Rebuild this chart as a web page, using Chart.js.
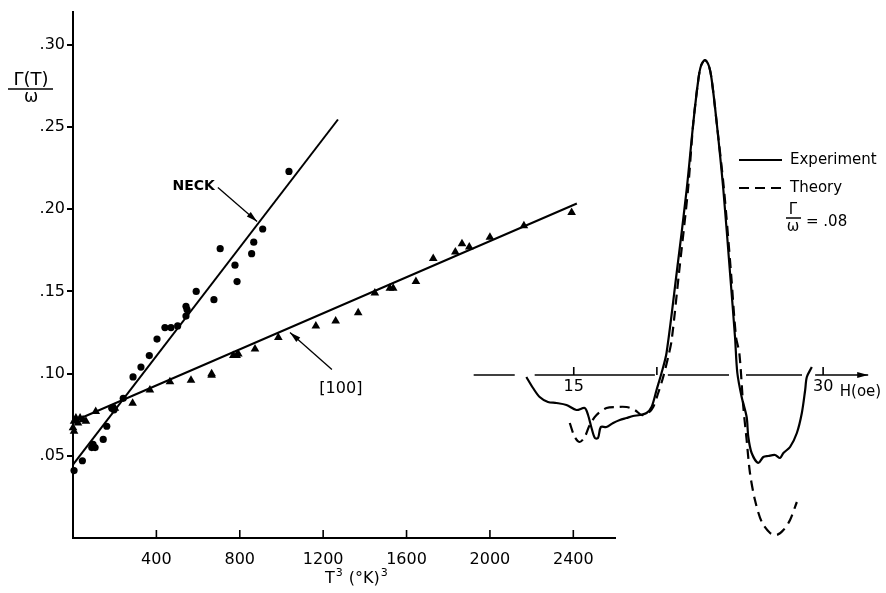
<!DOCTYPE html>
<html>
<head>
<meta charset="utf-8">
<script src="https://cdn.jsdelivr.net/npm/chart.js@4.4.1/dist/chart.umd.min.js"></script>
<style>
  body { margin: 0; background: #fff; }
  #wrap { position: relative; width: 886px; height: 593px; }
  #main { position: absolute; left: 0; top: 0; }
  #inset { position: absolute; left: 460px; top: 40px; }
</style>
</head>
<body>
<div id="wrap">
  <canvas id="main" width="886" height="593"></canvas>
  <canvas id="inset" width="426" height="520"></canvas>
</div>
<script>
// ---- data ----
// NECK orbit (dots): T^3 in (K)^3, Gamma/omega
const neckT3 = [5, 45, 90, 96, 106, 145, 162, 186, 197, 241, 288, 326, 366, 403, 441, 470, 502, 542, 547, 542, 591, 676, 706, 787, 777, 857, 867, 910, 1036];
const neckRatio = [0.041, 0.047, 0.055, 0.057, 0.055, 0.060, 0.068, 0.079, 0.078, 0.085, 0.098, 0.104, 0.111, 0.121, 0.128, 0.128, 0.129, 0.135, 0.139, 0.141, 0.150, 0.145, 0.176, 0.156, 0.166, 0.173, 0.180, 0.188, 0.223];

// [100] direction (triangles)
const hundredT3 = [0, 5, 14, 24, 34, 48, 62, 5, 109, 201, 286, 369, 465, 566, 665, 665, 769, 785, 793, 873, 985, 1165, 1260, 1368, 1448, 1520, 1536, 1645, 1728, 1834, 1866, 1901, 2000, 2163, 2392];
const hundredRatio = [0.067, 0.071, 0.073, 0.070, 0.073, 0.072, 0.071, 0.065, 0.077, 0.079, 0.082, 0.090, 0.095, 0.096, 0.100, 0.099, 0.111, 0.111, 0.112, 0.115, 0.122, 0.129, 0.132, 0.137, 0.149, 0.152, 0.152, 0.156, 0.170, 0.174, 0.179, 0.177, 0.183, 0.190, 0.198];

// straight fits, end points
const neckFitT3 = [0, 1271];
const neckFitRatio = [0.0447, 0.2546];
const hundredFitT3 = [0, 2417];
const hundredFitRatio = [0.0709, 0.2035];

const xTicks = [400, 800, 1200, 1600, 2000, 2400];
const yTicks = [0.05, 0.10, 0.15, 0.20, 0.25, 0.30];

// inset: line shape vs H (oe), arbitrary signal units
const expField = [12.15, 12.55, 12.95, 13.45, 13.96, 14.56, 15.16, 15.66, 15.86, 16.07, 16.27, 16.46, 16.63, 16.97, 17.37, 17.77, 18.17, 18.57, 18.98, 19.38, 19.68, 19.98, 20.28, 20.58, 21.19, 21.79, 22.19, 22.49, 22.65, 22.89, 23.13, 23.30, 23.60, 24.00, 24.40, 24.70, 24.84, 25.10, 25.40, 25.50, 25.70, 26.10, 26.40, 26.70, 27.11, 27.41, 27.61, 28.01, 28.42, 28.72, 28.92, 29.02, 29.32];
const expSignal = [-0.02, -0.13, -0.22, -0.27, -0.28, -0.30, -0.35, -0.33, -0.40, -0.53, -0.63, -0.63, -0.52, -0.52, -0.48, -0.45, -0.43, -0.41, -0.40, -0.38, -0.32, -0.15, 0.02, 0.22, 1.02, 1.85, 2.52, 2.95, 3.09, 3.15, 3.09, 2.95, 2.52, 1.85, 1.02, 0.38, 0.02, -0.22, -0.42, -0.62, -0.78, -0.88, -0.82, -0.81, -0.80, -0.83, -0.78, -0.72, -0.58, -0.38, -0.15, -0.02, 0.08];
const theoryField = [14.76, 15.06, 15.36, 15.66, 15.96, 16.37, 16.97, 17.57, 18.17, 18.67, 19.08, 19.48, 19.78, 20.08, 20.38, 20.68, 20.89, 21.33, 21.87, 22.19, 22.49, 22.65, 22.89, 23.13, 23.30, 23.60, 24.04, 24.46, 24.76, 24.96, 25.20, 25.40, 25.60, 25.90, 26.31, 26.81, 27.21, 27.61, 28.01, 28.42];
const theorySignal = [-0.48, -0.62, -0.67, -0.62, -0.50, -0.40, -0.33, -0.32, -0.32, -0.35, -0.40, -0.38, -0.32, -0.18, -0.02, 0.18, 0.35, 1.02, 1.85, 2.52, 2.95, 3.09, 3.15, 3.09, 2.95, 2.52, 1.85, 1.02, 0.38, 0.22, -0.32, -0.65, -0.98, -1.25, -1.47, -1.58, -1.60, -1.55, -1.45, -1.27];

const insetTicks = [15, 20, 30];
const insetTickLabels = ['15', '', '30'];
// the H axis is broken where the curves cross it
const insetAxisPieces = [[8.98, 11.45], [12.65, 19.88], [20.66, 24.34], [25.36, 28.73]];

// ---- helpers ----
function pairs(xs, ys) {
    return xs.map((v, i) => ({ x: v, y: ys[i] }));
}

function arrow(ctx, x1, y1, x2, y2) {
    const a = Math.atan2(y2 - y1, x2 - x1);
    ctx.beginPath();
    ctx.moveTo(x1, y1);
    ctx.lineTo(x2, y2);
    ctx.stroke();
    ctx.beginPath();
    ctx.moveTo(x2, y2);
    ctx.lineTo(x2 - 11 * Math.cos(a) + 3 * Math.sin(a), y2 - 11 * Math.sin(a) - 3 * Math.cos(a));
    ctx.lineTo(x2 - 11 * Math.cos(a) - 3 * Math.sin(a), y2 - 11 * Math.sin(a) + 3 * Math.cos(a));
    ctx.closePath();
    ctx.fill();
}

Chart.defaults.font.family = 'DejaVu Sans';
Chart.defaults.font.size = 16;
Chart.defaults.color = '#000';

// ---- main plot decorations ----
const mainDecor = {
    id: 'mainDecor',
    afterDraw(chart) {
        const { ctx, scales: { x, y } } = chart;
        ctx.save();
        ctx.strokeStyle = '#000';
        ctx.fillStyle = '#000';

        // ticks on the T^3 axis point inward
        ctx.lineWidth = 1.6;
        xTicks.forEach(v => {
            const px = x.getPixelForValue(v);
            ctx.beginPath();
            ctx.moveTo(px, y.bottom);
            ctx.lineTo(px, y.bottom - 8);
            ctx.stroke();
        });

        // y title as a fraction
        ctx.textAlign = 'center';
        ctx.textBaseline = 'middle';
        ctx.font = '18px DejaVu Sans';
        ctx.fillText('\u0393(T)', 31, 80);
        ctx.lineWidth = 1.5;
        ctx.beginPath();
        ctx.moveTo(8, 89);
        ctx.lineTo(53, 89);
        ctx.stroke();
        ctx.font = '17px DejaVu Sans';
        ctx.fillText('\u03c9', 31, 98);

        // x title  T^3 (K)^3
        ctx.textAlign = 'left';
        let tx = 325;
        ctx.font = '16px DejaVu Sans';
        ctx.fillText('T', tx, 579);
        tx += ctx.measureText('T').width + 1;
        ctx.font = '11px DejaVu Sans';
        ctx.fillText('3', tx, 573);
        tx += ctx.measureText('3').width + 6;
        ctx.font = '16px DejaVu Sans';
        ctx.fillText('(\u00b0K)', tx, 579);
        tx += ctx.measureText('(\u00b0K)').width + 1;
        ctx.font = '11px DejaVu Sans';
        ctx.fillText('3', tx, 573);

        // labels with arrows
        ctx.font = 'bold 14px DejaVu Sans';
        ctx.textAlign = 'right';
        ctx.fillText('NECK', x.getPixelForValue(681), y.getPixelForValue(0.2138));
        ctx.font = '16px DejaVu Sans';
        ctx.textAlign = 'center';
        ctx.fillText('[100]', x.getPixelForValue(1285), y.getPixelForValue(0.091));

        ctx.lineWidth = 1.3;
        arrow(ctx, x.getPixelForValue(695), y.getPixelForValue(0.2133), x.getPixelForValue(883), y.getPixelForValue(0.1925));
        arrow(ctx, x.getPixelForValue(1242), y.getPixelForValue(0.1025), x.getPixelForValue(1041), y.getPixelForValue(0.125));
        ctx.restore();
    }
};

new Chart(document.getElementById('main'), {
    type: 'scatter',
    data: {
        datasets: [
            {
                label: 'NECK',
                data: pairs(neckT3, neckRatio),
                pointStyle: 'circle',
                pointRadius: 3.6,
                backgroundColor: '#000',
                borderColor: '#000',
                borderWidth: 0,
                clip: false
            },
            {
                label: '[100]',
                data: pairs(hundredT3, hundredRatio),
                pointStyle: 'triangle',
                pointRadius: 5,
                backgroundColor: '#000',
                borderColor: '#000',
                borderWidth: 0,
                clip: false
            },
            {
                label: 'NECK fit',
                data: pairs(neckFitT3, neckFitRatio),
                showLine: true,
                borderColor: '#000',
                borderWidth: 2,
                pointRadius: 0,
                clip: false
            },
            {
                label: '[100] fit',
                data: pairs(hundredFitT3, hundredFitRatio),
                showLine: true,
                borderColor: '#000',
                borderWidth: 2,
                pointRadius: 0,
                clip: false
            }
        ]
    },
    options: {
        responsive: false,
        animation: false,
        layout: { padding: { left: 0, right: 271, top: 12, bottom: 0 } },
        plugins: { legend: { display: false }, tooltip: { enabled: false } },
        scales: {
            x: {
                type: 'linear',
                min: 0,
                max: 2600,
                afterBuildTicks: axis => { axis.ticks = xTicks.map(v => ({ value: v })); },
                afterFit: axis => { axis.height = 55; },
                grid: { display: false },
                border: { display: true, color: '#000', width: 2 },
                ticks: { padding: 4, maxRotation: 0, font: { size: 16 }, callback: v => String(v) }
            },
            y: {
                type: 'linear',
                min: 0,
                max: 0.32,
                afterBuildTicks: axis => { axis.ticks = yTicks.map(v => ({ value: v })); },
                afterFit: axis => { axis.width = 73; },
                grid: { drawOnChartArea: false, drawTicks: true, tickLength: 6, color: '#000', lineWidth: 2 },
                border: { display: true, color: '#000', width: 2 },
                ticks: {
                    padding: 2,
                    font: { size: 16 },
                    callback: v => '.' + String(Math.round(v * 100)).padStart(2, '0')
                }
            }
        }
    },
    plugins: [mainDecor]
});

// ---- inset decorations ----
const insetDecor = {
    id: 'insetDecor',
    afterDraw(chart) {
        const { ctx, scales: { x, y } } = chart;
        const y0 = y.getPixelForValue(0);
        ctx.save();
        ctx.strokeStyle = '#000';
        ctx.fillStyle = '#000';
        ctx.lineWidth = 1.6;

        // axis pieces and the arrow
        insetAxisPieces.forEach(p => {
            ctx.beginPath();
            ctx.moveTo(x.getPixelForValue(p[0]), y0);
            ctx.lineTo(x.getPixelForValue(p[1]), y0);
            ctx.stroke();
        });
        arrow(ctx, x.getPixelForValue(29.52), y0, x.getPixelForValue(32.71), y0);

        insetTicks.forEach((v, i) => {
            const px = x.getPixelForValue(v);
            ctx.beginPath();
            ctx.moveTo(px, y0);
            ctx.lineTo(px, y0 - 8);
            ctx.stroke();
            ctx.font = '16px DejaVu Sans';
            ctx.textAlign = 'center';
            ctx.textBaseline = 'middle';
            ctx.fillText(insetTickLabels[i], px, y0 + 12);
        });
        ctx.textAlign = 'left';
        ctx.font = '15px DejaVu Sans';
        ctx.fillText('H(oe)', x.getPixelForValue(31.0), y0 + 17);

        // legend
        const lx = 739 - 460, tx = 790 - 460;
        ctx.lineWidth = 2;
        ctx.beginPath();
        ctx.moveTo(lx, 120);
        ctx.lineTo(lx + 43, 120);
        ctx.stroke();
        ctx.setLineDash([10, 6]);
        ctx.beginPath();
        ctx.moveTo(lx, 148);
        ctx.lineTo(lx + 43, 148);
        ctx.stroke();
        ctx.setLineDash([]);
        ctx.font = '15px DejaVu Sans';
        ctx.fillText('Experiment', tx, 120);
        ctx.fillText('Theory', tx, 148);

        ctx.textAlign = 'center';
        ctx.fillText('\u0393', 793 - 460, 170);
        ctx.lineWidth = 1.5;
        ctx.beginPath();
        ctx.moveTo(786 - 460, 178);
        ctx.lineTo(801 - 460, 178);
        ctx.stroke();
        ctx.fillText('\u03c9', 793 - 460, 187);
        ctx.textAlign = 'left';
        ctx.fillText('= .08', 806 - 460, 182);
        ctx.restore();
    }
};

new Chart(document.getElementById('inset'), {
    type: 'scatter',
    data: {
        datasets: [
            {
                label: 'Experiment',
                data: pairs(expField, expSignal),
                showLine: true,
                tension: 0.3,
                borderColor: '#000',
                borderWidth: 2.2,
                pointRadius: 0,
                clip: false
            },
            {
                label: 'Theory',
                data: pairs(theoryField, theorySignal),
                showLine: true,
                tension: 0.3,
                borderColor: '#000',
                borderWidth: 2.2,
                borderDash: [10, 6],
                pointRadius: 0,
                clip: false
            }
        ]
    },
    options: {
        responsive: false,
        animation: false,
        layout: { padding: { left: 14, right: 13, top: 5, bottom: 5 } },
        plugins: { legend: { display: false }, tooltip: { enabled: false } },
        scales: {
            x: { type: 'linear', min: 9, max: 33, display: false },
            y: { type: 'linear', min: -1.8, max: 3.3, display: false }
        }
    },
    plugins: [insetDecor]
});
</script>
</body>
</html>
